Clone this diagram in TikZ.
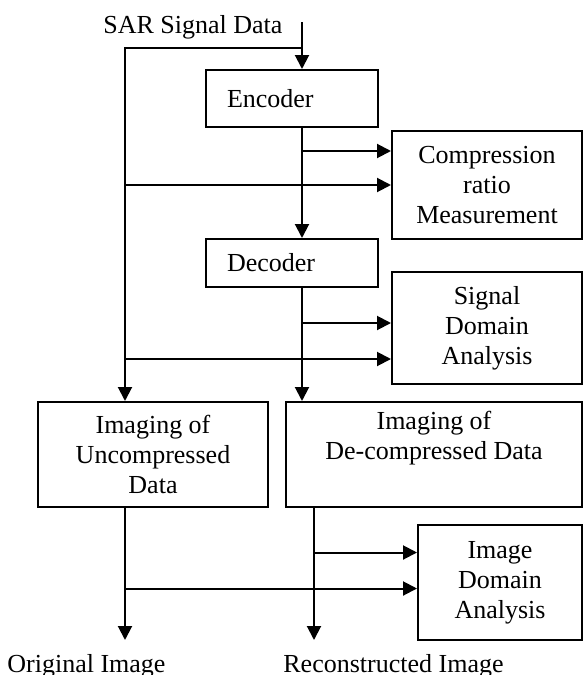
\documentclass[tikz,border=0pt]{standalone}
\usepackage{fontspec}
\setmainfont{Liberation Serif}
\usetikzlibrary{arrows.meta}

\begin{document}
\begin{tikzpicture}[x=0.5pt,y=-0.5pt,
    font=\fontsize{13}{15}\selectfont,
    blk/.style={draw,line width=1pt,rectangle,align=center,inner sep=0pt},
    lbl/.style={inner sep=0pt},
    arr/.style={line width=1pt,-{Triangle[length=7pt,width=7pt]}}]
    \useasboundingbox (0,0) rectangle (584,675);

    \node[lbl,anchor=base west] (sar) at (103,33) {SAR Signal Data};

    \node[blk,text width=65pt,align=left,inner xsep=10.5pt,minimum height=28.5pt] (enc) at (292,98.5) {Encoder};
    \node[blk,text width=65pt,align=left,inner xsep=10.5pt,minimum height=24pt] (dec) at (292,263) {Decoder};
    \node[blk,minimum width=95pt,minimum height=54pt] (comp) at (487,185) {Compression\\ratio\\Measurement};
    \node[blk,minimum width=95pt,minimum height=56pt] (sig) at (487,328) {Signal\\Domain\\Analysis};
    \node[blk,minimum width=115pt,minimum height=52.5pt] (unc) at (153,454.5) {Imaging of\\Uncompressed\\Data};
    \node[blk,minimum width=148pt,minimum height=52.5pt] (dcm) at (434,454.5) {Imaging of\\De-compressed Data\\\strut};
    \node[blk,minimum width=82pt,minimum height=57.5pt] (img) at (500,582.5) {Image\\Domain\\Analysis};

    \node[lbl,anchor=base west] (orig) at (7,672) {Original Image};
    \node[lbl,anchor=base west] (rec) at (283,672) {Reconstructed Image};

    \coordinate (sin) at (302,22);
    \coordinate (lft) at (125,48);
    \coordinate (oo) at (125,640);
    \coordinate (ro) at (314,640);
    \coordinate (cr1) at ([yshift=17pt]comp.west);
    \coordinate (cr2) at (comp.west);
    \coordinate (sd1) at ([yshift=2.5pt]sig.west);
    \coordinate (sd2) at ([yshift=-15.5pt]sig.west);
    \coordinate (id1) at ([yshift=15pt]img.west);
    \coordinate (id2) at ([yshift=-3pt]img.west);

    \draw[arr] (sin) -- (sin |- enc.north);
    \draw[arr] (sin |- lft) -- (lft) -- (lft |- unc.north);
    \draw[arr] (sin |- enc.south) -- (sin |- dec.north);
    \draw[arr] (sin |- dec.south) -- (sin |- dcm.north);
    \draw[arr] (sin |- cr1) -- (cr1);
    \draw[arr] (lft |- cr2) -- (cr2);
    \draw[arr] (sin |- sd1) -- (sd1);
    \draw[arr] (lft |- sd2) -- (sd2);

    \draw[arr] (oo |- unc.south) -- (oo);
    \draw[arr] (ro |- dcm.south) -- (ro);
    \draw[arr] (ro |- id1) -- (id1);
    \draw[arr] (oo |- id2) -- (id2);
\end{tikzpicture}
\end{document}
